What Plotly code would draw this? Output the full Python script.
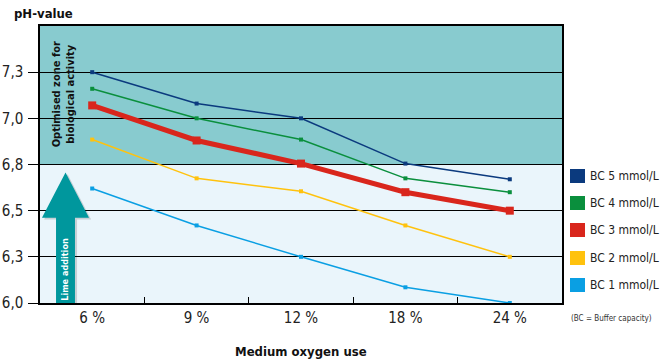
import plotly.graph_objects as go

categories = ["6 %", "9 %", "12 %", "18 %", "24 %"]
bc5 = [7.25, 7.08, 7.00, 6.755, 6.67]
bc4 = [7.16, 7.00, 6.885, 6.675, 6.60]
bc3 = [7.07, 6.88, 6.755, 6.60, 6.50]
bc2 = [6.885, 6.675, 6.605, 6.42, 6.25]
bc1 = [6.62, 6.42, 6.25, 6.085, 6.00]
series_names = ["BC 5 mmol/L", "BC 4 mmol/L", "BC 3 mmol/L", "BC 2 mmol/L", "BC 1 mmol/L"]
series_vals = [bc5, bc4, bc3, bc2, bc1]
colors = ["#0b3a7e", "#0a8f3d", "#d9261c", "#ffc20e", "#0a9fe3"]
widths = [1.5, 1.5, 5, 1.5, 1.5]
msizes = [4, 4, 8, 4, 4]
ytickvals = [6.0, 6.25, 6.5, 6.75, 7.0, 7.25]
yticktext = ["6,0", "6,3", "6,5", "6,8", "7,0", "7,3"]

FONT = "DejaVu Sans Condensed, Roboto, sans-serif"

fig = go.Figure()
for name, vals, c, w, ms in zip(series_names, series_vals, colors, widths, msizes):
    fig.add_trace(go.Scatter(x=categories, y=vals, mode="lines+markers", name=name,
                             line=dict(color=c, width=w),
                             marker=dict(symbol="square", size=ms, color=c),
                             showlegend=False))

shapes = []
# zones
shapes.append(dict(type="rect", xref="paper", yref="y", x0=0, x1=1, y0=6.75, y1=7.5,
                   fillcolor="#88cbcf", line=dict(width=0), layer="below"))
shapes.append(dict(type="rect", xref="paper", yref="y", x0=0, x1=1, y0=6.0, y1=6.75,
                   fillcolor="#eaf5fb", line=dict(width=0), layer="below"))
# arrow shadow + arrow
def arrow_path(dx=0.0, dy=0.0):
    xs0, xs1 = 0.0307 + dx, 0.067 + dx
    xh0, xh1 = 0.0038 + dx, 0.0939 + dx
    xt = 0.0489 + dx
    yb, yh, yt = 6.0 + dy, 6.462 + dy, 6.707 + dy
    return (f"M {xs0},{yb} L {xs0},{yh} L {xh0},{yh} L {xt},{yt} L {xh1},{yh} "
            f"L {xs1},{yh} L {xs1},{yb} Z")
shapes.append(dict(type="path", xref="paper", yref="y", path=arrow_path(0.004, -0.01),
                   fillcolor="rgba(0,0,0,0.15)", line=dict(width=0), layer="above"))
shapes.append(dict(type="path", xref="paper", yref="y", path=arrow_path(),
                   fillcolor="#00979d", line=dict(width=0), layer="above"))
# legend squares
leg_y = [176, 203, 230, 258, 285]
annotations = []
for yy, name, c in zip(leg_y, series_names, colors):
    shapes.append(dict(type="rect", xref="paper", yref="paper",
                       x0=(570 - 40) / 522, x1=(585 - 40) / 522,
                       y0=(303 - (yy + 7)) / 277, y1=(303 - (yy - 7)) / 277,
                       fillcolor=c, line=dict(width=0)))
    annotations.append(dict(xref="paper", yref="paper", x=(588 - 40) / 522,
                            y=(303 - yy) / 277, text=name, showarrow=False,
                            xanchor="left", yanchor="middle",
                            font=dict(family=FONT, size=12, color="#222")))

annotations += [
    dict(xref="paper", yref="paper", x=(569 - 40) / 522, y=(303 - 318) / 277,
         text="(BC = Buffer capacity)", showarrow=False, xanchor="left", yanchor="middle",
         font=dict(family=FONT, size=8, color="#333")),
    dict(xref="paper", yref="paper", x=-28 / 522, y=(303 - 13) / 277, text="<b>pH-value</b>",
         showarrow=False, xanchor="left", yanchor="middle",
         font=dict(family=FONT, size=13, color="#111")),
    dict(xref="paper", yref="paper", x=(301 - 40) / 522, y=(303 - 351) / 277,
         text="<b>Medium oxygen use</b>", showarrow=False, xanchor="center", yanchor="middle",
         font=dict(family=FONT, size=13, color="#111")),
    dict(xref="paper", yref="y", x=(63 - 40) / 522, y=7.13,
         text="<b>Optimised zone for<br>biological activity</b>", textangle=-90,
         showarrow=False, xanchor="center", yanchor="middle",
         font=dict(family=FONT, size=11, color="#111")),
    dict(xref="paper", yref="y", x=(65 - 40) / 522, y=6.18,
         text="<b>Lime addition</b>", textangle=-90,
         showarrow=False, xanchor="center", yanchor="middle",
         font=dict(family=FONT, size=9, color="white")),
]

fig.update_layout(
    width=660, height=364,
    margin=dict(l=40, r=98, t=26, b=61),
    paper_bgcolor="white", plot_bgcolor="#eaf5fb",
    shapes=shapes, annotations=annotations,
    xaxis=dict(type="category", range=[-0.5, 4.5], showgrid=False, automargin=False,
               ticks="inside", tickson="boundaries", ticklen=6, tickcolor="black",
               showline=True, linecolor="black", linewidth=1.5, mirror=True,
               tickfont=dict(family=FONT, size=15, color="#222"), zeroline=False),
    yaxis=dict(range=[6.0, 7.5], tickvals=ytickvals, ticktext=yticktext, automargin=False,
               showgrid=True, gridcolor="black", gridwidth=1.2,
               ticks="outside", ticklen=10, tickcolor="black", ticklabelstandoff=2,
               showline=True, linecolor="black", linewidth=1.5, mirror=True,
               tickfont=dict(family=FONT, size=15, color="#222"), zeroline=False),
)

fig.write_html("out.html")
